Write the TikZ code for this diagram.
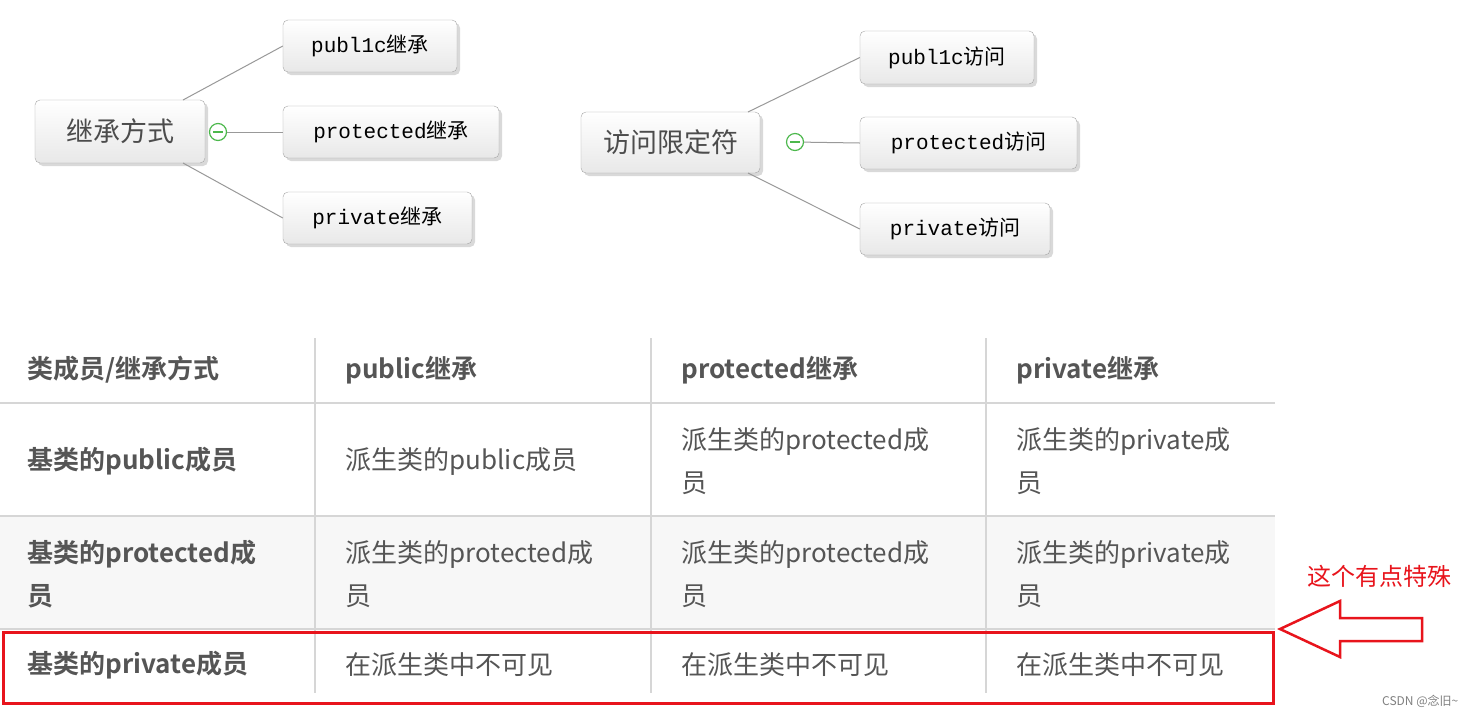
\documentclass[tikz,border=0pt]{standalone}
\usepackage{fontspec}
\setmonofont{Liberation Mono}
\newfontfamily\cjk{Noto Sans CJK SC}
\newfontfamily\cjkb{Noto Sans CJK SC Bold}
\definecolor{tg}{HTML}{555555}
\definecolor{lg}{HTML}{D6D6D6}
\definecolor{rd}{HTML}{E8141C}
\tikzset{
 mm/.style={draw=gray!70,rounded corners=5pt,top color=white,bottom color=gray!18,inner sep=0pt,font=\fontsize{21}{24}\selectfont\ttfamily},
 root/.style={mm,font=\fontsize{27}{30}\selectfont\cjk\color{black!70}},
 conn/.style={draw=gray!80,line width=1pt},
 knob/.style={circle,draw=green!60!black!70,fill=white,line width=1.2pt,minimum size=17pt,inner sep=0pt},
 cell/.style={anchor=west,text=tg,font=\fontsize{26}{43}\selectfont\cjk,align=left},
 hcell/.style={cell,font=\fontsize{26}{43}\selectfont\cjkb},
 grid/.style={draw=lg,line width=1.5pt}
}
\begin{document}
\begin{tikzpicture}[x=1pt,y=-1pt]
\useasboundingbox (0,0) rectangle (1482,716);
\fill[white] (0,0) rectangle (1482,716);
\foreach \a/\b/\c/\d in {35/100/205/163,283/20/457/72,283/106/499/158,283/192/472/244,581/112/760/173,860/31/1034/84,860/117/1077/169,860/203/1050/255}
  {\fill[gray!30,rounded corners=5pt] (\a+3,\b+3) rectangle (\c+3,\d+3);}
\node[root,minimum width=170pt,minimum height=63pt] (a0) at (120,131.5) {继承方式};
\node[mm,minimum width=174pt,minimum height=52pt] (a1) at (370,46) {publ1c{\cjk 继承}};
\node[mm,minimum width=216pt,minimum height=52pt] (a2) at (391,132) {protected{\cjk 继承}};
\node[mm,minimum width=189pt,minimum height=52pt] (a3) at (377.5,218) {private{\cjk 继承}};
\coordinate (a0t) at (183,100); \coordinate (a0b) at (183,163);
\draw[conn] (a0t) -- (a1.west);
\draw[conn] (a0b) -- (a3.west);
\node[knob] (ka) at (218,132) {};
\draw[conn] (ka) -- (a2.west);
\draw[green!60!black!70,line width=1.2pt] ([xshift=-5pt]ka.center) -- ([xshift=5pt]ka.center);
\node[root,minimum width=179pt,minimum height=61pt] (b0) at (670.5,142.5) {访问限定符};
\node[mm,minimum width=174pt,minimum height=53pt] (b1) at (947,57.5) {publ1c{\cjk 访问}};
\node[mm,minimum width=217pt,minimum height=52pt] (b2) at (968.5,143) {protected{\cjk 访问}};
\node[mm,minimum width=190pt,minimum height=52pt] (b3) at (955,229) {private{\cjk 访问}};
\coordinate (b0t) at (748,112); \coordinate (b0b) at (748,173);
\draw[conn] (b0t) -- (b1.west);
\draw[conn] (b0b) -- (b3.west);
\node[knob] (kb) at (795,142) {};
\draw[conn] (kb) -- (b2.west);
\draw[green!60!black!70,line width=1.2pt] ([xshift=-5pt]kb.center) -- ([xshift=5pt]kb.center);
% table
\fill[gray!6] (0,516) rectangle (1275,629);
\draw[grid] (0,403) -- (1275,403) (0,516) -- (1275,516) (0,629) -- (1275,629);
\draw[grid] (315,338) -- (315,693) (651,338) -- (651,693) (986,338) -- (986,693);
\node[hcell] (h0) at (24,370) {类成员/继承方式};
\node[hcell] (h1) at (342,370) {public继承};
\node[hcell] (h2) at (678,370) {protected继承};
\node[hcell] (h3) at (1013,370) {private继承};
\node[hcell] (r10) at (24,461) {基类的public成员};
\node[cell] (r11) at (342,461) {派生类的public成员};
\node[cell] (r12) at (678,461) {派生类的protected成\\员};
\node[cell] (r13) at (1013,461) {派生类的private成\\员};
\node[hcell] (r20) at (24,574) {基类的protected成\\员};
\node[cell] (r21) at (342,574) {派生类的protected成\\员};
\node[cell] (r22) at (678,574) {派生类的protected成\\员};
\node[cell] (r23) at (1013,574) {派生类的private成\\员};
\node[hcell] (r30) at (24,665) {基类的private成员};
\node[cell] (r31) at (342,665) {在派生类中不可见};
\node[cell] (r32) at (678,665) {在派生类中不可见};
\node[cell] (r33) at (1013,665) {在派生类中不可见};
\draw[rd,line width=3pt] (3,632) rectangle (1273,703);
\coordinate (tip) at (1280,629);
\draw[rd,line width=2.5pt,line join=miter] (tip) -- (1340,601) -- (1340,618) -- (1422,618) -- (1422,641) -- (1340,641) -- (1340,657) -- cycle;
\node[anchor=west,text=rd,font=\fontsize{24}{28}\selectfont\cjk,inner sep=0pt] (note) at (1307,576) {这个有点特殊};
\node[anchor=west,text=gray,font=\fontsize{12}{14}\selectfont\cjk,inner sep=0pt] (wm) at (1382,701) {CSDN @念旧\textasciitilde};
\end{tikzpicture}
\end{document}
